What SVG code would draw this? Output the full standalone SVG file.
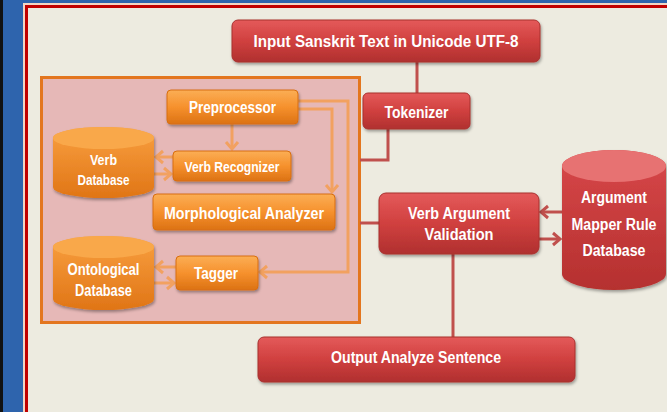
<svg xmlns="http://www.w3.org/2000/svg" width="667" height="412" viewBox="0 0 667 412">
<defs>
<style>
.rt{fill:#fff;font-family:"Liberation Sans",Arial,sans-serif;font-weight:bold;text-anchor:middle}
.rbox{fill:url(#gRed);stroke:#a8302f;stroke-width:1;filter:url(#sh)}
.obox{fill:url(#gOr);stroke:#d86e10;stroke-width:1;filter:url(#sh)}
.rl{stroke:#c0504d;stroke-width:3;fill:none}
.ol{stroke:#f2a160;stroke-width:3;fill:none}
</style>
<linearGradient id="gRed" x1="0" y1="0" x2="0" y2="1">
<stop offset="0" stop-color="#e45a5a"/><stop offset="0.5" stop-color="#d0403f"/><stop offset="1" stop-color="#b0302f"/>
</linearGradient>
<linearGradient id="gOr" x1="0" y1="0" x2="0" y2="1">
<stop offset="0" stop-color="#fbae55"/><stop offset="0.5" stop-color="#f6912d"/><stop offset="1" stop-color="#dc7214"/>
</linearGradient>
<linearGradient id="gOrCyl" x1="0" y1="0" x2="0" y2="1">
<stop offset="0" stop-color="#f9a040"/><stop offset="1" stop-color="#e07516"/>
</linearGradient>
<linearGradient id="gRedCyl" x1="0" y1="0" x2="0" y2="1">
<stop offset="0" stop-color="#d8484a"/><stop offset="1" stop-color="#b5302f"/>
</linearGradient>
<filter id="sh" x="-10%" y="-10%" width="120%" height="140%">
<feDropShadow dx="1" dy="2" stdDeviation="1.5" flood-color="#000" flood-opacity="0.35"/>
</filter>
<marker id="ao" markerUnits="userSpaceOnUse" markerWidth="14" markerHeight="16" refX="9" refY="8" orient="auto">
<path d="M2,2 L9,8 L2,14" fill="none" stroke="#f2a160" stroke-width="3"/>
</marker>
<marker id="ar" markerUnits="userSpaceOnUse" markerWidth="14" markerHeight="16" refX="9" refY="8" orient="auto">
<path d="M2,2 L9,8 L2,14" fill="none" stroke="#c0504d" stroke-width="3"/>
</marker>
</defs>

<!-- frame / background -->
<rect x="0" y="0" width="667" height="412" fill="#2e64ad"/>
<rect x="0" y="0" width="3" height="412" fill="#111"/>
<rect x="23" y="3" width="644" height="409" fill="#f3d6c4"/>
<rect x="26.5" y="6.5" width="660" height="420" fill="#edebe0" stroke="#c00000" stroke-width="3"/>

<!-- group container -->
<g id="group">
<rect x="41.5" y="77.5" width="318" height="245" fill="#e6b8b7" stroke="#e3761f" stroke-width="3"/>
</g>

<!-- connectors -->
<g id="connectors">
<path class="rl" d="M417,62 V93"/>
<path class="rl" d="M388,129 V160 H360"/>
<path class="rl" d="M360,223 H379"/>
<path class="rl" d="M453,254 V337"/>
<path class="rl" d="M562,212 H541" marker-end="url(#ar)"/>
<path class="rl" d="M539,239 H560" marker-end="url(#ar)"/>
<path class="ol" d="M232,124 V149" marker-end="url(#ao)"/>
<path class="ol" d="M173,157 H156" marker-end="url(#ao)"/>
<path class="ol" d="M154,174 H171" marker-end="url(#ao)"/>
<path class="ol" d="M298,101 H348 V272 H260" marker-end="url(#ao)"/>
<path class="ol" d="M298,109 H332 V192" marker-end="url(#ao)"/>
<path class="ol" d="M176,267 H156" marker-end="url(#ao)"/>
<path class="ol" d="M154,283 H174" marker-end="url(#ao)"/>
</g>

<g id="input">
<rect class="rbox" x="232" y="20" width="308" height="42" rx="6"/>
<text class="rt" x="386" y="46.5" font-size="16" textLength="265" lengthAdjust="spacingAndGlyphs">Input Sanskrit Text in Unicode UTF-8</text>
</g>

<g id="tokenizer">
<rect class="rbox" x="363" y="93" width="107" height="36" rx="5"/>
<text class="rt" x="416.5" y="118" font-size="16" textLength="64" lengthAdjust="spacingAndGlyphs">Tokenizer</text>
</g>

<g id="preprocessor">
<rect class="obox" x="167" y="90" width="131" height="34" rx="4"/>
<text class="rt" x="232.5" y="113" font-size="16" textLength="87" lengthAdjust="spacingAndGlyphs">Preprocessor</text>
</g>

<g id="verb-recognizer">
<rect class="obox" x="173" y="151" width="118" height="30" rx="4"/>
<text class="rt" x="232" y="171.5" font-size="15" textLength="95" lengthAdjust="spacingAndGlyphs">Verb Recognizer</text>
</g>

<g id="morph">
<rect class="obox" x="153" y="194" width="182" height="36" rx="4"/>
<text class="rt" x="244" y="218.5" font-size="17" textLength="160" lengthAdjust="spacingAndGlyphs">Morphological  Analyzer</text>
</g>

<g id="tagger">
<rect class="obox" x="176" y="256" width="82" height="34" rx="4"/>
<text class="rt" x="216" y="278.5" font-size="16" textLength="44" lengthAdjust="spacingAndGlyphs">Tagger</text>
</g>

<g id="verb-db">
<path d="M53,138 A50.5,11 0 0 1 154,138 V187 A50.5,11 0 0 1 53,187 Z" fill="url(#gOrCyl)" filter="url(#sh)"/>
<ellipse cx="103.5" cy="138" rx="50.5" ry="11" fill="#f9a84a"/>
<text class="rt" x="103.5" y="165" font-size="14" textLength="27" lengthAdjust="spacingAndGlyphs">Verb</text>
<text class="rt" x="103.5" y="185" font-size="14" textLength="52" lengthAdjust="spacingAndGlyphs">Database</text>
</g>

<g id="onto-db">
<path d="M53,247 A50.5,11 0 0 1 154,247 V299 A50.5,11 0 0 1 53,299 Z" fill="url(#gOrCyl)" filter="url(#sh)"/>
<ellipse cx="103.5" cy="247" rx="50.5" ry="11" fill="#f9a84a"/>
<text class="rt" x="103.5" y="275" font-size="16" textLength="72" lengthAdjust="spacingAndGlyphs">Ontological</text>
<text class="rt" x="103.5" y="295.5" font-size="16" textLength="57" lengthAdjust="spacingAndGlyphs">Database</text>
</g>

<g id="vav">
<rect class="rbox" x="379" y="193" width="160" height="61" rx="7"/>
<text class="rt" x="459" y="218.5" font-size="16" textLength="102" lengthAdjust="spacingAndGlyphs">Verb Argument</text>
<text class="rt" x="459" y="240" font-size="16" textLength="69" lengthAdjust="spacingAndGlyphs">Validation</text>
</g>

<g id="arg-db">
<path d="M562,166 A52,16 0 0 1 666,166 V274 A52,16 0 0 1 562,274 Z" fill="url(#gRedCyl)" filter="url(#sh)"/>
<ellipse cx="614" cy="166" rx="52" ry="16" fill="#e77272"/>
<text class="rt" x="614" y="203" font-size="16" textLength="66" lengthAdjust="spacingAndGlyphs">Argument</text>
<text class="rt" x="614" y="230" font-size="16" textLength="85" lengthAdjust="spacingAndGlyphs">Mapper Rule</text>
<text class="rt" x="614" y="255.5" font-size="16" textLength="63" lengthAdjust="spacingAndGlyphs">Database</text>
</g>

<g id="output">
<rect class="rbox" x="258" y="337" width="317" height="45" rx="6"/>
<text class="rt" x="416" y="362.5" font-size="16" textLength="170" lengthAdjust="spacingAndGlyphs">Output Analyze Sentence</text>
</g>
</svg>
